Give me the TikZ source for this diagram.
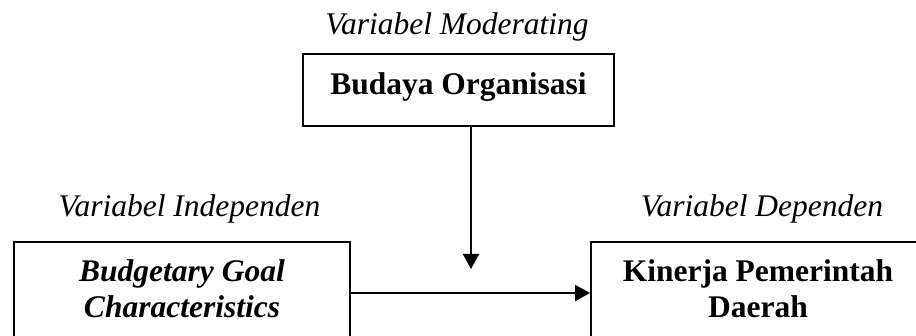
\documentclass[tikz,border=0pt]{standalone}
\usepackage{fontspec}
\setmainfont{Liberation Serif}
\usetikzlibrary{arrows.meta}
\begin{document}
\begin{tikzpicture}[x=1pt,y=-1pt,
  box/.style={draw=black, line width=1.8pt, rectangle, inner sep=0pt},
  lbl/.style={anchor=base, inner sep=0pt, font=\fontsize{31.5}{36}\selectfont},
  arr/.style={draw=black, line width=1.8pt, -{Triangle[length=15pt,width=16pt]}}]
\useasboundingbox (0,0) rectangle (916,336);
\clip (0,0) rectangle (916,336);
% boxes
\node[box, minimum width=311pt, minimum height=72pt] (mod) at (458.5,90) {};
\node[box, minimum width=336pt, minimum height=180pt] (ind) at (182,332) {};
\node[box, minimum width=409pt, minimum height=180pt] (dep) at (795.5,332) {};
% texts
\node[lbl, font=\fontsize{31.5}{36}\selectfont\itshape] (tmod) at (457,35) {Variabel Moderating};
\node[lbl, font=\fontsize{31.5}{36}\selectfont\bfseries] (bmod) at (458.5,95) {Budaya Organisasi};
\node[lbl, font=\fontsize{31.5}{36}\selectfont\itshape] (tind) at (189.5,217) {Variabel Independen};
\node[lbl, font=\fontsize{31.5}{36}\selectfont\bfseries\itshape] (bind1) at (182,282) {Budgetary Goal};
\node[lbl, font=\fontsize{31.5}{36}\selectfont\bfseries\itshape] (bind2) at (182,318) {Characteristics};
\node[lbl, font=\fontsize{31.5}{36}\selectfont\itshape] (tdep) at (762,217) {Variabel Dependen};
\node[lbl, font=\fontsize{31.5}{36}\selectfont\bfseries] (bdep1) at (758,282) {Kinerja Pemerintah};
\node[lbl, font=\fontsize{31.5}{36}\selectfont\bfseries] (bdep2) at (758,318) {Daerah};
% connectors
\coordinate (modtip) at (471,269);
\coordinate (hline) at (0,293);
\draw[arr] (mod.south -| modtip) -- (modtip);
\draw[arr] (ind.east |- hline) -- (dep.west |- hline);
\end{tikzpicture}
\end{document}
